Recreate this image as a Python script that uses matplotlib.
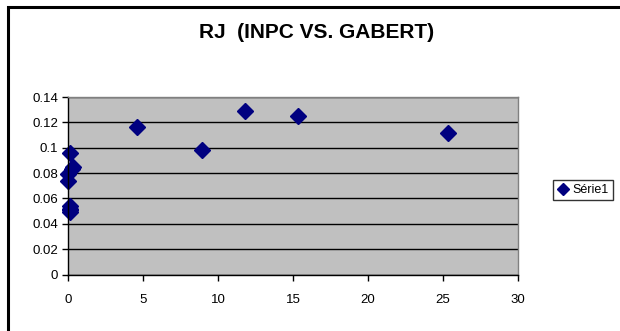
import matplotlib
matplotlib.use("Agg")
import matplotlib.pyplot as plt
from matplotlib.patches import Rectangle

plt.rcParams['font.family'] = ['Liberation Sans', 'DejaVu Sans']

# INPC vs. Gabert values for RJ
inpc = [0.10, 0.25, 0.30, 0.00, 0.02, 0.10, 0.15, 0.10, 0.12, 4.6, 8.9, 11.8, 15.3, 25.3]
gabert = [0.096, 0.083, 0.085, 0.074, 0.079, 0.054, 0.052, 0.049, 0.051,
          0.116, 0.098, 0.129, 0.125, 0.112]
x_ticks = [0, 5, 10, 15, 20, 25, 30]
y_ticks = [0, 0.02, 0.04, 0.06, 0.08, 0.1, 0.12, 0.14]
y_tick_labels = ['0', '0.02', '0.04', '0.06', '0.08', '0.1', '0.12', '0.14']
series_name = 'Série1'
title = 'RJ  (INPC VS. GABERT)'

W, H = 620, 331
fig = plt.figure(figsize=(W / 100, H / 100), dpi=100)
fig.patch.set_facecolor('white')

# outer chart frame
fig.add_artist(Rectangle((8 / W, -0.1), 1.2, 1 - 7 / H + 0.1, transform=fig.transFigure,
                         fill=False, edgecolor='black', linewidth=2.2))

ax = fig.add_axes([68 / W, 1 - 274.5 / H, 450 / W, 177.5 / H])
ax.set_facecolor('#C0C0C0')
ax.set_xlim(0, 30)
ax.set_ylim(0, 0.14)
ax.set_xticks(x_ticks)
ax.set_yticks(y_ticks)
ax.set_yticklabels(y_tick_labels)
ax.yaxis.grid(True, color='black', linewidth=1.0)
ax.set_axisbelow(True)
for side in ['top', 'right']:
    ax.spines[side].set_color('#808080')
    ax.spines[side].set_linewidth(1.0)
for side in ['left', 'bottom']:
    ax.spines[side].set_color('black')
    ax.spines[side].set_linewidth(1.0)
ax.tick_params(axis='both', direction='out', length=4, width=1, colors='black',
               labelsize=9.5)
ax.tick_params(axis='x', pad=10)
ax.tick_params(axis='y', pad=3)

ax.plot(inpc, gabert, linestyle='none', marker='D', markersize=8,
        color='#000080', label=series_name, clip_on=False)

fig.text(317 / W, 1 - 33 / H, title, ha='center', va='center',
         fontsize=15, fontweight='bold')

leg = fig.legend(loc='center left', bbox_to_anchor=(547 / W, 1 - 190 / H),
                 frameon=True, fancybox=False, fontsize=9, handlelength=0.8,
                 handletextpad=0.4, borderpad=0.35, markerscale=0.75)
leg.get_frame().set_edgecolor('black')
leg.get_frame().set_linewidth(1.0)

fig.savefig('out.png', dpi=100)
